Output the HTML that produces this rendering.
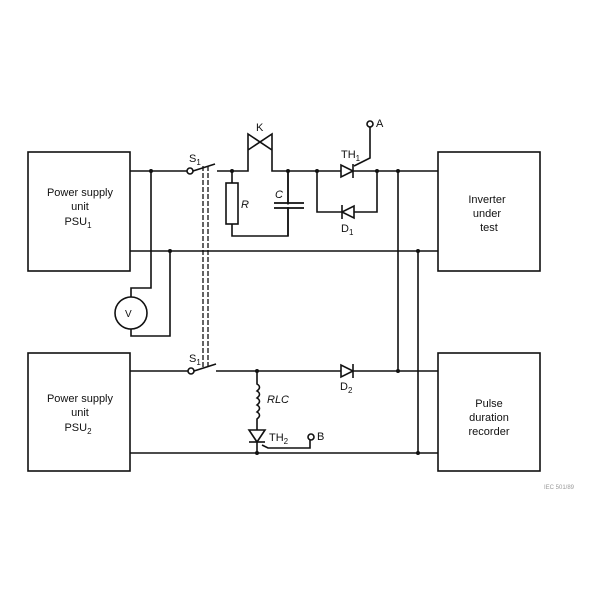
<!DOCTYPE html>
<html><head><style>body{margin:0;background:#fff}svg{display:block}</style></head><body>
<svg width="600" height="600" viewBox="0 0 600 600" xmlns="http://www.w3.org/2000/svg" font-family="Liberation Sans, sans-serif" fill="none" stroke="#111" stroke-width="1.6">
<rect x="0" y="0" width="600" height="600" fill="#fff" stroke="none"/>
<!-- boxes -->
<rect x="28" y="152" width="102" height="119"/>
<rect x="438" y="152" width="102" height="119"/>
<rect x="28" y="353" width="102" height="118"/>
<rect x="438" y="353" width="102" height="118"/>
<g fill="#111" stroke="none" font-size="11" text-anchor="middle">
<text x="80" y="196">Power supply</text><text x="80" y="210">unit</text><text x="78" y="225">PSU<tspan font-size="8" dy="3">1</tspan></text>
<text x="487" y="203">Inverter</text><text x="487" y="217">under</text><text x="489" y="231">test</text>
<text x="80" y="402">Power supply</text><text x="80" y="416">unit</text><text x="78" y="431">PSU<tspan font-size="8" dy="3">2</tspan></text>
<text x="489" y="407">Pulse</text><text x="489" y="421">duration</text><text x="489" y="435">recorder</text>
</g>
<!-- top line -->
<path d="M130 171H187M217 171H248V134L272 150V134L248 150M272 134V171H438"/>
<circle cx="190" cy="171" r="3" fill="#fff"/>
<path d="M193 171L215 164"/>
<path d="M203 166V368M208 166V368" stroke-dasharray="5,2" stroke-width="1.3"/>
<!-- R and C -->
<path d="M232 171V236H288V171"/>
<rect x="226" y="183" width="12" height="41" fill="#fff"/>
<path d="M288 171V204M288 208V236" />
<path d="M274 203H304M274 208H304" stroke-width="1.8"/>
<rect x="284" y="204.5" width="8" height="2.5" fill="#fff" stroke="none"/>
<!-- TH1 and D1 -->
<path d="M317 171V212H377V171"/>
<path d="M341 165V177L353 171Z" fill="#fff"/><path d="M353 164V178"/>
<path d="M354 206V218L342 212Z" fill="#fff"/><path d="M342 205V219"/>
<path d="M354 166L370 158V127"/>
<circle cx="370" cy="124" r="3" fill="#fff"/>
<!-- second line -->
<path d="M130 251H438"/>
<path d="M151 171V288H131V297M131 329V336H170V251"/>
<circle cx="131" cy="313" r="16"/>
<path d="M398 171V371M418 251V453"/>
<!-- bottom lines -->
<path d="M130 371H188M216 371H438"/>
<circle cx="191" cy="371" r="3" fill="#fff"/>
<path d="M194 371L216 364"/>
<path d="M341 365V377L353 371Z" fill="#fff"/><path d="M353 364V378"/>
<path d="M130 453H438"/>
<path d="M257 371V384q5 3 0 7q5 3 0 7q5 3 0 7q5 3 0 7q5 3 0 7V430M257 442V453"/>
<path d="M249 430H265L257 442Z" fill="#fff"/><path d="M249 442H265"/>
<path d="M262 445L268 448H310V440"/>
<circle cx="311" cy="437" r="3" fill="#fff"/>
<!-- nodes -->
<g fill="#111" stroke="none">
<circle cx="151" cy="171" r="2"/><circle cx="232" cy="171" r="2"/><circle cx="288" cy="171" r="2"/><circle cx="317" cy="171" r="2"/><circle cx="377" cy="171" r="2"/><circle cx="398" cy="171" r="2"/>
<circle cx="170" cy="251" r="2"/><circle cx="418" cy="251" r="2"/><circle cx="398" cy="371" r="2"/><circle cx="257" cy="371" r="2"/><circle cx="257" cy="453" r="2"/><circle cx="418" cy="453" r="2"/>
</g>
<!-- labels -->
<g fill="#111" stroke="none" font-size="11">
<text x="256" y="131">K</text>
<text x="189" y="162">S<tspan font-size="8" dy="3">1</tspan></text>
<text x="189" y="362">S<tspan font-size="8" dy="3">1</tspan></text>
<text x="241" y="208" font-style="italic">R</text>
<text x="275" y="198" font-style="italic">C</text>
<text x="341" y="158">TH<tspan font-size="8" dy="3">1</tspan></text>
<text x="341" y="232">D<tspan font-size="8" dy="3">1</tspan></text>
<text x="376" y="127">A</text>
<text x="340" y="390">D<tspan font-size="8" dy="3">2</tspan></text>
<text x="267" y="403" font-style="italic">RLC</text>
<text x="269" y="441">TH<tspan font-size="8" dy="3">2</tspan></text>
<text x="317" y="440">B</text>
<text x="125" y="317" font-size="10">V</text>
<text x="544" y="489" font-size="6" fill="#999">IEC  501/89</text>
</g>
</svg>
</body></html>
